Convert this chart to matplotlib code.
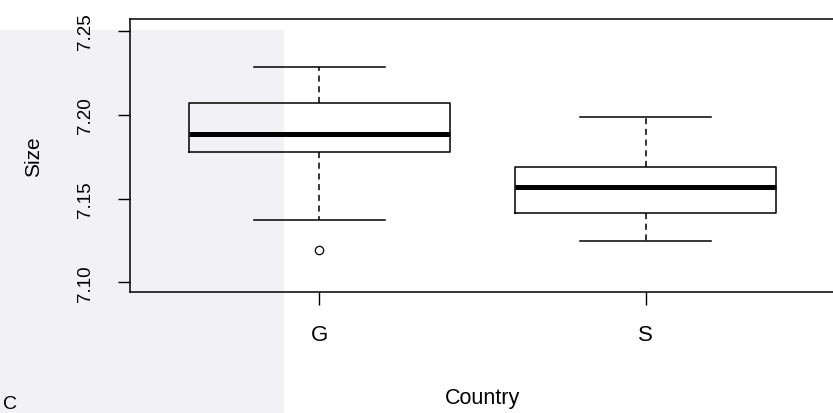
import matplotlib.pyplot as plt
from matplotlib.patches import Rectangle

plt.rcParams['font.family'] = ['Liberation Sans', 'DejaVu Sans']

# valores (boxplot estilo R)
paises = ["G", "S"]
mediana = [7.1887, 7.157]
q1 = [7.178, 7.1415]
q3 = [7.2071, 7.169]
bigote_inf = [7.1375, 7.1244]
bigote_sup = [7.2286, 7.1988]
atipicos = [[7.1196], []]

fig = plt.figure(figsize=(8.33, 4.14), dpi=100)
# fondo de la marca de agua (zona lila clara a la izquierda)
fig.patches.append(Rectangle((0, 0), 0.341, 0.925, transform=fig.transFigure,
                             facecolor='#f1f1f6', edgecolor='none', zorder=-1))
ax = fig.add_axes([0.156, 0.2923, 0.8464, 0.6594])
ax.set_facecolor('none')

stats = []
for i in range(len(paises)):
    stats.append({
        'label': paises[i],
        'med': mediana[i],
        'q1': q1[i],
        'q3': q3[i],
        'whislo': bigote_inf[i],
        'whishi': bigote_sup[i],
        'fliers': atipicos[i],
    })

ax.bxp(stats, positions=[1, 2], widths=0.8, showfliers=True,
       boxprops=dict(color='black', linewidth=1.1),
       medianprops=dict(color='black', linewidth=3.6, solid_capstyle='butt'),
       whiskerprops=dict(color='black', linewidth=1.1, linestyle=(0, (4, 3))),
       capprops=dict(color='black', linewidth=1.1),
       capwidths=0.4,
       flierprops=dict(marker='o', markersize=6, markerfacecolor='none',
                       markeredgecolor='black', markeredgewidth=0.9))

ax.set_xlim(0.42, 2.58)
ax.set_ylim(7.0943, 7.257)
ax.set_yticks([7.10, 7.15, 7.20, 7.25])
ax.set_yticklabels(["7.10", "7.15", "7.20", "7.25"], rotation=90, va='center', fontsize=13.5)
ax.set_xticks([1, 2])
ax.set_xticklabels(paises, fontsize=16)
ax.tick_params(axis='y', length=9, width=1, pad=17)
ax.tick_params(axis='x', length=9, width=1, pad=14)

for s in ax.spines.values():
    s.set_linewidth(1.1)

ax.set_xlabel("Country", fontsize=15.5, labelpad=30)
ax.set_ylabel("Size", fontsize=15, labelpad=24)

fig.text(0.004, 0.003, "C", fontsize=14, va='bottom', ha='left')

plt.savefig("out.png", dpi=100)
